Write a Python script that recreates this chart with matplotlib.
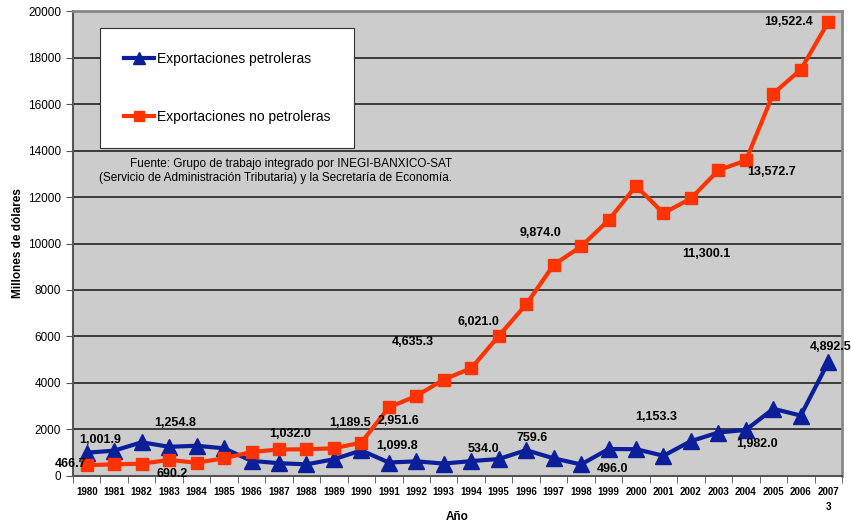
import matplotlib

matplotlib.use("Agg")

import matplotlib.pyplot as plt
import numpy as np

years = [str(y) for y in range(1980, 2008)]

petroleras = [1001.9, 1090, 1450, 1254.8, 1300, 1190, 650, 550, 500, 720,
              1099.8, 580, 630, 534.0, 640, 730, 1110, 759.6, 496.0, 1160,
              1153.3, 870, 1500, 1870, 1982.0, 2890, 2600, 4892.5]
no_petroleras = [466.7, 500, 530, 690.2, 570, 760, 1032.0, 1140, 1150, 1189.5,
                 1440, 2951.6, 3440, 4150, 4635.3, 6021.0, 7380, 9080, 9874.0, 11000,
                 12480, 11300.1, 11940, 13150, 13572.7, 16450, 17480, 19522.4]

# label text, x (category index), y (value)
labels = [
    ("1,001.9", 0.48, 1548), ("466.7", -0.6, 516), ("1,254.8", 3.22, 2279),
    ("690.2", 3.1, 86), ("1,032.0", 7.4, 1806), ("1,189.5", 9.59, 2279),
    ("2,951.6", 11.34, 2365), ("1,099.8", 11.3, 1290), ("4,635.3", 11.88, 5763),
    ("6,021.0", 14.25, 6623), ("534.0", 14.43, 1161), ("759.6", 16.2, 1634),
    ("496.0", 19.13, 301), ("9,874.0", 16.54, 10450), ("1,153.3", 20.73, 2537),
    ("11,300.1", 22.55, 9548), ("1,982.0", 24.4, 1376), ("13,572.7", 24.92, 13074),
    ("4,892.5", 27.07, 5548), ("19,522.4", 25.57, 19527),
]

blue = "#0a1f99"
red = "#ff3300"
font = "Liberation Sans"

fig = plt.figure(figsize=(8.51, 5.27), dpi=100)
ax = fig.add_axes([0.0858, 0.0968, 0.9036, 0.8823])
ax.set_facecolor("#cccccc")

x = np.arange(len(years))
ax.plot(x, petroleras, "-", color=blue, lw=3, marker="^", ms=11, label="Exportaciones petroleras", zorder=3)
ax.plot(x, no_petroleras, "-", color=red, lw=3, marker="s", ms=9, label="Exportaciones no petroleras", zorder=3)

ax.set_xlim(-0.5, len(years) - 0.5)
ax.set_ylim(0, 20000)
ax.set_yticks(np.arange(0, 20001, 2000))
ax.set_yticklabels([str(v) for v in range(0, 20001, 2000)], fontsize=8.5, family=font)
ax.yaxis.grid(True, color="#222222", lw=1.2)
ax.set_axisbelow(True)

ax.set_xticks(x)
ax.set_xticklabels(years, fontsize=7, fontweight="bold", family=font)
ax.tick_params(axis="x", length=0, pad=8)
ax.set_xticks(np.arange(-0.5, len(years), 1), minor=True)
ax.tick_params(axis="x", which="minor", length=5, color="#555555")
ax.tick_params(axis="y", length=5, color="#555555")

for side in ["left", "bottom"]:
    ax.spines[side].set_color("#555555")
    ax.spines[side].set_linewidth(1.5)
for side in ["top", "right"]:
    ax.spines[side].set_color("#888888")
    ax.spines[side].set_linewidth(2)

for txt, lx, ly in labels:
    ax.text(lx, ly, txt, fontsize=9, fontweight="bold", ha="center", va="center",
            family=font, zorder=4, clip_on=False)

ax.text(27, -1350, "3", fontsize=7, fontweight="bold", ha="center", va="center",
        family=font, clip_on=False)

ax.set_ylabel("Millones de dólares", fontsize=8.5, fontweight="bold", family=font, labelpad=3)
ax.set_xlabel("Año", fontsize=8.5, fontweight="bold", family=font, labelpad=10)

leg = ax.legend(loc="upper left", bbox_to_anchor=(0.0351, 0.7097, 0.3303, 0.2537),
                mode="expand", prop={"family": font, "size": 10},
                fancybox=False, framealpha=1, edgecolor="#333333",
                labelspacing=3.2, borderpad=1.7, handlelength=2.2, handletextpad=0.2,
                borderaxespad=0, markerscale=0.75)
leg.get_frame().set_linewidth(0.8)

ax.text(0.4928, 0.656, "Fuente: Grupo de trabajo integrado por INEGI-BANXICO-SAT\n"
        "(Servicio de Administración Tributaria) y la Secretaría de Economía.",
        transform=ax.transAxes, fontsize=8.5, ha="right", va="center", multialignment="right",
        family=font, linespacing=1.15)

fig.savefig("out.png", dpi=100)
plt.close(fig)
